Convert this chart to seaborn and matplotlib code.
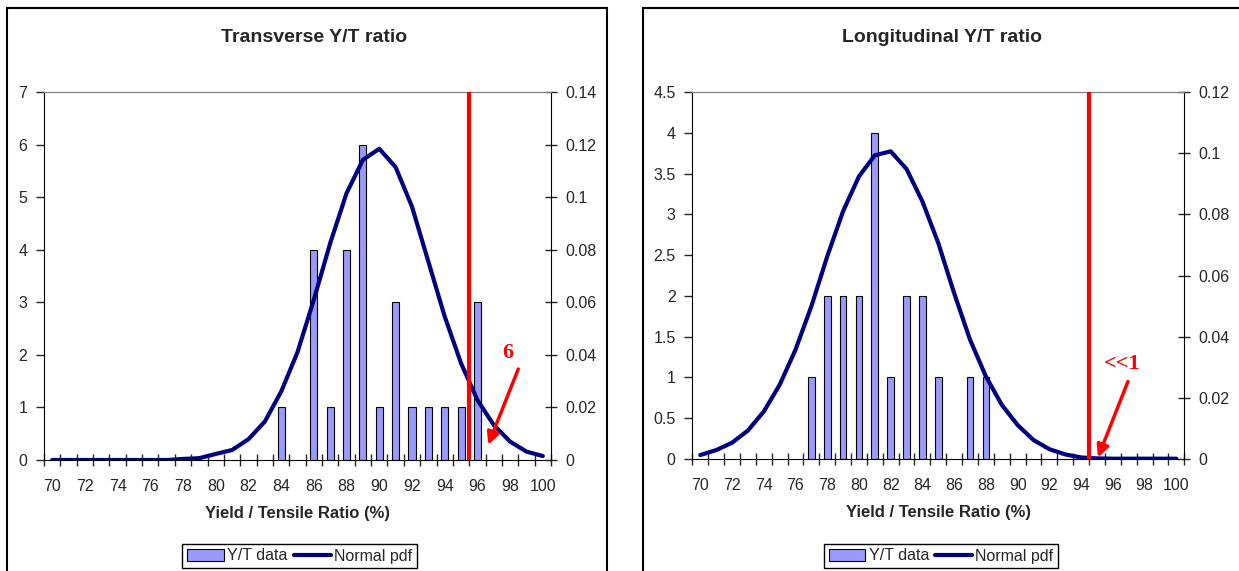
import matplotlib
matplotlib.use('Agg')
import matplotlib.pyplot as plt
from matplotlib.patches import Rectangle
from matplotlib.ticker import FuncFormatter, MultipleLocator, FixedLocator
import seaborn as sns

sns.set_style(style='white')
plt.rcParams['font.family'] = ['Liberation Sans', 'DejaVu Sans']

# yield / tensile ratio categories (%)
ratio_axis = list(range(70, 101))

# transverse specimens
trans_bins = [84, 86, 87, 88, 89, 90, 91, 92, 93, 94, 95, 96]
trans_counts = [1, 4, 1, 4, 6, 1, 3, 1, 1, 1, 1, 3]
trans_pdf = [0, 0, 0, 0, 0, 0, 0, 0, 0.0004, 0.0007, 0.0023, 0.0038,
             0.0079, 0.0146, 0.026, 0.041, 0.061, 0.0825, 0.1015, 0.1142,
             0.1184, 0.1114, 0.0964, 0.0755, 0.0546, 0.0368, 0.0228, 0.0133,
             0.007, 0.0032, 0.0015]
trans_limit = 95.5

# longitudinal specimens
long_bins = [77, 78, 79, 80, 81, 82, 83, 84, 85, 87, 88]
long_counts = [1, 2, 2, 2, 4, 1, 2, 2, 1, 1, 1]
long_pdf = [0.0013, 0.0029, 0.0053, 0.0093, 0.0155, 0.0242, 0.0357, 0.0499,
            0.0662, 0.081, 0.0924, 0.0993, 0.1006, 0.0948, 0.0842, 0.0706,
            0.0542, 0.039, 0.027, 0.0177, 0.0111, 0.0062, 0.0032, 0.0015,
            0.0005, 0.0002, 0.0001, 0.0001, 0.0001, 0.0001, 0.0001]
long_limit = 94.5

BAR_COLOR = '#9999FF'
LINE_COLOR = '#000080'
fmt = FuncFormatter(lambda v, p: '%g' % round(v, 4))


def panel(fig, rect, title, title_x, bins, counts, pdf, ymax, ystep, y2max,
          limit, note, note_xy, arrow_from, arrow_to, legend_x):
    ax = fig.add_axes(rect)
    sns.barplot(x=bins, y=counts, native_scale=True, width=0.43,
                color=BAR_COLOR, edgecolor='black', linewidth=0.8,
                saturation=1, ax=ax, label='Y/T data')
    ax2 = ax.twinx()
    sns.lineplot(x=ratio_axis, y=pdf, color=LINE_COLOR, linewidth=3,
                 ax=ax2, label='Normal pdf')
    ax2.axvline(limit, color='red', linewidth=3, zorder=5)

    ax.set_xlim(69.5, 100.5)
    ax.set_ylim(0, ymax)
    ax2.set_ylim(0, y2max)
    ax.yaxis.set_major_locator(MultipleLocator(ystep))
    ax2.yaxis.set_major_locator(MultipleLocator(0.02))
    ax.yaxis.set_major_formatter(fmt)
    ax2.yaxis.set_major_formatter(fmt)
    ax.xaxis.set_major_locator(FixedLocator(ratio_axis[::2]))
    ax.xaxis.set_minor_locator(FixedLocator([v - 0.5 for v in ratio_axis] + [100.5]))
    ax.tick_params(axis='x', which='major', length=0, labelsize=11.5, pad=14)
    ax.tick_params(axis='x', which='minor', length=8, direction='inout',
                   width=1, bottom=True)
    ax.tick_params(axis='y', length=6, direction='out', width=1,
                   labelsize=11.5, left=True, pad=6)
    ax2.tick_params(axis='y', length=8, direction='inout', width=1,
                    labelsize=11.5, right=True, pad=6)
    ax.set_xlabel('Yield / Tensile Ratio (%)', fontsize=12,
                  fontweight='bold', labelpad=8)
    ax.set_ylabel('')
    ax2.set_ylabel('')

    for a in (ax, ax2):
        a.spines['top'].set_color('#808080')
        for s in ('left', 'bottom', 'right'):
            a.spines[s].set_color('black')
    ax.spines['right'].set_visible(False)
    ax2.spines['left'].set_visible(False)
    ax2.spines['bottom'].set_visible(False)

    ax.legend_ and ax.legend_.remove()
    ax2.legend_ and ax2.legend_.remove()

    ax2.annotate('', xy=arrow_to, xytext=arrow_from, xycoords=ax.transData,
                 textcoords=ax.transData,
                 arrowprops=dict(arrowstyle='-|>', color='red', lw=2.5,
                                 mutation_scale=18, shrinkA=0, shrinkB=0),
                 zorder=6)
    ax2.text(note_xy[0], note_xy[1], note, transform=ax.transData,
             color='red', fontsize=16, fontweight='bold',
             family=['Liberation Serif', 'DejaVu Serif'],
             ha='center', va='center', zorder=6)

    fig.text(title_x, 1 - 38 / 571, title,
             ha='center', va='center', fontsize=14, fontweight='bold')

    handles = [ax.patches[0], ax2.lines[0]]
    fig.legend(handles, ['Y/T data', 'Normal pdf'], loc='center',
               bbox_to_anchor=(legend_x, 1 - 556 / 571), ncol=2,
               fontsize=11.5, frameon=True, fancybox=False, edgecolor='black',
               framealpha=1, borderpad=0.3, handlelength=2.3,
               handletextpad=0.2, columnspacing=0.4, borderaxespad=0)
    return ax, ax2


fig = plt.figure(figsize=(12.39, 5.71), dpi=100)

# panel frames
fig.patches.append(Rectangle((7 / 1239, -0.05), 600 / 1239, 1.05 - 8 / 571,
                             transform=fig.transFigure, fill=False,
                             edgecolor='black', linewidth=1.5))
fig.patches.append(Rectangle((643 / 1239, -0.05), 0.6, 1.05 - 8 / 571,
                             transform=fig.transFigure, fill=False,
                             edgecolor='black', linewidth=1.5))

panel(fig, [44 / 1239, 111 / 571, 507 / 1239, 368 / 571],
      'Transverse Y/T ratio', 314 / 1239, trans_bins, trans_counts, trans_pdf,
      7, 1, 0.14, trans_limit, '6', (97.88, 2.04), (98.5, 1.73),
      (96.66, 0.29), 299.5 / 1239)

panel(fig, [692.3 / 1239, 112 / 571, 492 / 1239, 367 / 571],
      'Longitudinal Y/T ratio', 942 / 1239, long_bins, long_counts, long_pdf,
      4.5, 0.5, 0.12, long_limit, '<<1', (96.6, 1.17), (96.95, 0.95),
      (95.06, 0.02), 941 / 1239)

fig.savefig('out.png', dpi=100)
plt.close(fig)
